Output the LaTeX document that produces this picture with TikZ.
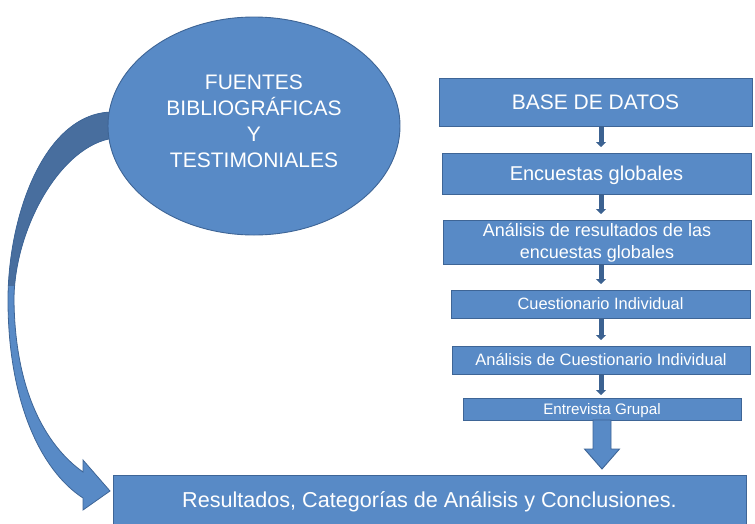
\documentclass[tikz,border=0pt]{standalone}
\usepackage{fontspec}
\setmainfont{Liberation Sans}
\usetikzlibrary{arrows.meta,shapes.geometric,calc}
\definecolor{boxfill}{RGB}{88,138,198}
\definecolor{boxline}{RGB}{62,101,150}
\definecolor{arrdark}{RGB}{72,110,158}
\definecolor{smallarr}{RGB}{60,98,145}
\pgfdeclarelayer{bg}
\pgfsetlayers{bg,main}
\newcommand\ArrCurvePath{(s1) .. controls (45,111) and (8,215) .. (8,300)
  .. controls (8,400) and (40,470) .. (hl) -- (cl) -- (tip) -- (cu) -- (hu)
  .. controls (45,445) and (15,390) .. (14,300)
  .. controls (14,230) and (60,145) .. (s2) -- cycle}
\begin{document}
\begin{tikzpicture}[x=1pt,y=-1pt,
  blk/.style={draw=boxline, line width=0.9pt, fill=boxfill, text=white,
    inner sep=0pt, outer sep=0pt, align=center},
  oneline/.style={font=\fontsize{#1}{#1}\selectfont, text height=0.716*#1 pt, text depth=0pt},
  flowarr/.style={draw=smallarr, line width=5pt,
    -{Triangle[width=10pt,length=5pt]}, shorten >=6pt},
  bigarr/.style={draw=boxline, line width=0.9pt, fill=boxfill}]
\useasboundingbox (0,0) rectangle (755,523);

% nodes
\node[blk, ellipse, minimum width=292pt, minimum height=218pt,
  font=\fontsize{21}{26}\selectfont] (ell) at (254,126)
  {\raisebox{3pt}[\height][\depth]{\begin{tabular}{@{}c@{}}FUENTES\\BIBLIOGRÁFICAS\\Y\\TESTIMONIALES\end{tabular}}};
\node[blk, oneline=21, minimum width=313pt, minimum height=48pt]
  (base) at (595.5,102) {BASE DE DATOS};
\node[blk, oneline=20, minimum width=309pt, minimum height=41pt]
  (enc) at (596.5,173.5) {Encuestas globales};
\node[blk, minimum width=308pt, minimum height=40pt,
  font=\fontsize{18}{22}\selectfont] (ana) at (597,242)
  {\raisebox{-1.5pt}[\height][\depth]{\begin{tabular}{@{}c@{}}Análisis de resultados de las\\encuestas globales\end{tabular}}};
\node[blk, oneline=16.4, minimum width=299pt, minimum height=28pt]
  (cue) at (600.5,304) {Cuestionario Individual};
\node[blk, oneline=16.5, minimum width=298pt, minimum height=28pt]
  (anc) at (601,360) {Análisis de Cuestionario Individual};
\node[blk, oneline=15.2, minimum width=278pt, minimum height=22pt]
  (ent) at (602,409) {Entrevista Grupal};
\node[blk, oneline=21.6, minimum width=633pt, minimum height=50pt]
  (res) at (429.5,500) {Resultados, Categorías de Análisis y Conclusiones.};

% curved arrow from ellipse to results (behind the ellipse)
\path ([xshift=6pt,yshift=14pt]ell.west) coordinate (s1)
      ([xshift=6pt,yshift=-12pt]ell.west) coordinate (s2)
      ([xshift=-3pt,yshift=-16pt]res.north west) coordinate (tip);
\path ([xshift=-27pt,yshift=-7pt]tip) coordinate (hl)
      ([xshift=-27pt,yshift=-19pt]tip) coordinate (cl)
      ([xshift=-27pt,yshift=31pt]tip) coordinate (cu)
      ([xshift=-27pt,yshift=19pt]tip) coordinate (hu);
\begin{pgfonlayer}{bg}
  \fill[boxfill] \ArrCurvePath;
  \begin{scope}
    \clip (0,0) rectangle (300,285);
    \fill[arrdark] \ArrCurvePath;
  \end{scope}
  \draw[boxline, line width=0.8pt] \ArrCurvePath;
\end{pgfonlayer}

% small flow arrows
\coordinate (ax) at (601,0);
\draw[flowarr] (base.south -| ax) -- (enc.north -| ax);
\draw[flowarr] (enc.south -| ax) -- (ana.north -| ax);
\draw[flowarr] (ana.south -| ax) -- (cue.north -| ax);
\draw[flowarr] (cue.south -| ax) -- (anc.north -| ax);
\draw[flowarr, shorten >=3pt] (anc.south -| ax) -- (ent.north -| ax);

% big block arrow
\path (res.north -| ent.south) ++(0,-6) coordinate (bt);
\filldraw[bigarr] ([xshift=-9pt]ent.south) -- ([xshift=-9pt,yshift=20pt]bt)
  -- ([xshift=-17.5pt,yshift=20pt]bt) -- (bt)
  -- ([xshift=17.5pt,yshift=20pt]bt) -- ([xshift=9pt,yshift=20pt]bt)
  -- ([xshift=9pt]ent.south) -- cycle;
\end{tikzpicture}
\end{document}
